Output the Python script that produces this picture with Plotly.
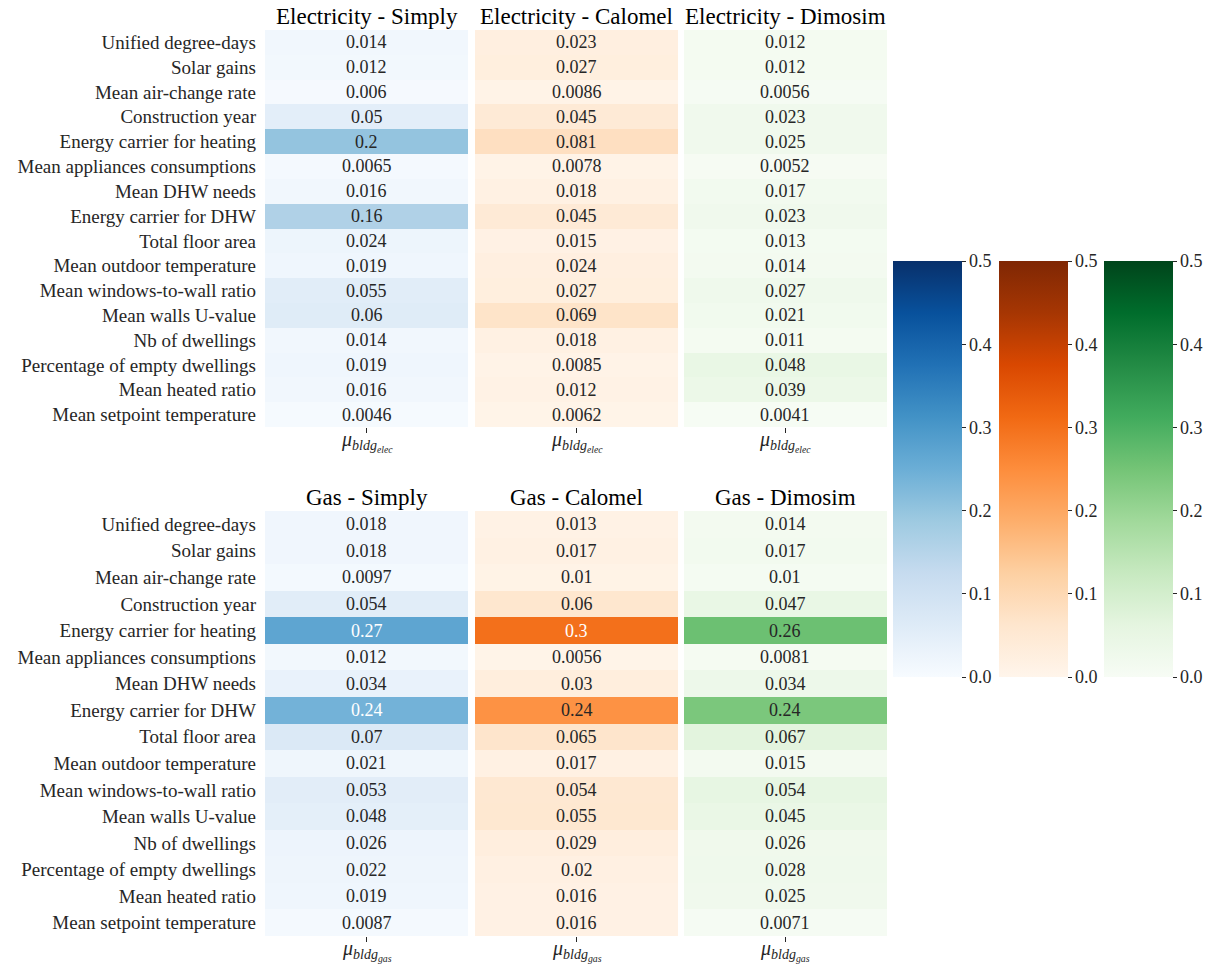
import plotly.graph_objects as go
from plotly.colors import sequential, sample_colorscale, unlabel_rgb

features = [
    "Unified degree-days", "Solar gains", "Mean air-change rate", "Construction year",
    "Energy carrier for heating", "Mean appliances consumptions", "Mean DHW needs",
    "Energy carrier for DHW", "Total floor area", "Mean outdoor temperature",
    "Mean windows-to-wall ratio", "Mean walls U-value", "Nb of dwellings",
    "Percentage of empty dwellings", "Mean heated ratio", "Mean setpoint temperature",
]

elec_simply = [0.014, 0.012, 0.006, 0.05, 0.2, 0.0065, 0.016, 0.16, 0.024, 0.019, 0.055, 0.06, 0.014, 0.019, 0.016, 0.0046]
elec_calomel = [0.023, 0.027, 0.0086, 0.045, 0.081, 0.0078, 0.018, 0.045, 0.015, 0.024, 0.027, 0.069, 0.018, 0.0085, 0.012, 0.0062]
elec_dimosim = [0.012, 0.012, 0.0056, 0.023, 0.025, 0.0052, 0.017, 0.023, 0.013, 0.014, 0.027, 0.021, 0.011, 0.048, 0.039, 0.0041]
gas_simply = [0.018, 0.018, 0.0097, 0.054, 0.27, 0.012, 0.034, 0.24, 0.07, 0.021, 0.053, 0.048, 0.026, 0.022, 0.019, 0.0087]
gas_calomel = [0.013, 0.017, 0.01, 0.06, 0.3, 0.0056, 0.03, 0.24, 0.065, 0.017, 0.054, 0.055, 0.029, 0.02, 0.016, 0.016]
gas_dimosim = [0.014, 0.017, 0.01, 0.047, 0.26, 0.0081, 0.034, 0.24, 0.067, 0.015, 0.054, 0.045, 0.026, 0.028, 0.025, 0.0071]

titles = ["Electricity - Simply", "Electricity - Calomel", "Electricity - Dimosim",
          "Gas - Simply", "Gas - Calomel", "Gas - Dimosim"]
xcat_elec = "mu_bldg_elec"
xcat_gas = "mu_bldg_gas"
xlabel_elec = "<i>μ</i><sub><i>bldg</i><sub><i>elec</i></sub></sub>"
xlabel_gas = "<i>μ</i><sub><i>bldg</i><sub><i>gas</i></sub></sub>"
cbar_ticks = [0.0, 0.1, 0.2, 0.3, 0.4, 0.5]

VMIN, VMAX = 0.0, 0.5
FONT = "Liberation Serif"
DARK = "#262626"

scales = [sequential.Blues, sequential.Oranges, sequential.Greens]

def mk_scale(cols):
    n = len(cols)
    return [[i / (n - 1), c] for i, c in enumerate(cols)]

def rel_lum(rgbstr):
    r, g, b = [v / 255 for v in unlabel_rgb(rgbstr)]
    def f(c):
        return c / 12.92 if c <= 0.03928 else ((c + 0.055) / 1.055) ** 2.4
    return 0.2126 * f(r) + 0.7152 * f(g) + 0.0722 * f(b)

panels = [
    (elec_simply, 0, 0, xcat_elec, xlabel_elec), (elec_calomel, 1, 0, xcat_elec, xlabel_elec),
    (elec_dimosim, 2, 0, xcat_elec, xlabel_elec),
    (gas_simply, 0, 1, xcat_gas, xlabel_gas), (gas_calomel, 1, 1, xcat_gas, xlabel_gas),
    (gas_dimosim, 2, 1, xcat_gas, xlabel_gas),
]

W, H = 1212, 965
def px_x(p):
    return p / W
def px_y(p):
    return 1 - p / H

xdom_px = [(265, 468), (475, 678), (684, 887)]
ydom_px = [(30, 427), (511, 936)]

fig = go.Figure()
annotations = []
layout = {}
for k, (vals, col, row, xc, xl) in enumerate(panels):
    idx = k + 1
    xa = "x" if idx == 1 else f"x{idx}"
    ya = "y" if idx == 1 else f"y{idx}"
    fig.add_trace(go.Heatmap(
        z=[[v] for v in vals], x=[xc], y=features,
        coloraxis="coloraxis" if col == 0 else f"coloraxis{col+1}",
        xaxis=xa, yaxis=ya, hoverinfo="skip",
    ))
    x0, x1 = xdom_px[col]
    y0, y1 = ydom_px[row]
    layout[f"xaxis{idx if idx > 1 else ''}"] = dict(
        domain=[px_x(x0), px_x(x1)], anchor=ya, showgrid=False, zeroline=False,
        ticks="outside", ticklen=5, tickwidth=1, tickcolor=DARK, showline=False,
        showticklabels=False, fixedrange=True,
    )
    layout[f"yaxis{idx if idx > 1 else ''}"] = dict(
        domain=[px_y(y1), px_y(y0)], anchor=xa, autorange="reversed",
        showgrid=False, zeroline=False, showline=False, ticks="",
        showticklabels=(col == 0), ticklabelstandoff=8,
        tickfont=dict(family=FONT, size=19, color=DARK), fixedrange=True,
    )
    annotations.append(dict(
        text=titles[k], xref="paper", yref="paper", x=px_x((x0 + x1) / 2),
        y=px_y(y0 + 1), xanchor="center", yanchor="bottom", showarrow=False,
        font=dict(family=FONT, size=23, color="black"),
    ))
    annotations.append(dict(
        text=xl, xref="paper", yref="paper", x=px_x((x0 + x1) / 2),
        y=px_y(y1 - 1), xanchor="center", yanchor="top", showarrow=False,
        font=dict(family=FONT, size=20, color=DARK),
    ))
    cs = scales[col]
    for feat, v in zip(features, vals):
        c = sample_colorscale(mk_scale(cs), [(v - VMIN) / (VMAX - VMIN)])[0]
        tc = DARK if rel_lum(c) > 0.408 else "white"
        annotations.append(dict(
            text=f"{v:.2g}", xref=xa, yref=ya, x=xc, y=feat, showarrow=False,
            font=dict(family=FONT, size=18, color=tc),
        ))

cb_x_px = [893, 999, 1104]
for i, cs in enumerate(scales):
    name = "coloraxis" if i == 0 else f"coloraxis{i+1}"
    layout[name] = dict(
        colorscale=mk_scale(cs), cmin=VMIN, cmax=VMAX,
        colorbar=dict(
            x=px_x(cb_x_px[i]), xanchor="left", xpad=0, ypad=0,
            y=px_y(677), yanchor="bottom", len=416 / H, lenmode="fraction",
            thickness=69, thicknessmode="pixels", outlinewidth=0,
            tickmode="array", tickvals=cbar_ticks,
            ticktext=[f"{t:.1f}" for t in cbar_ticks],
            ticks="outside", ticklen=4, tickcolor=DARK,
            tickfont=dict(family=FONT, size=18, color=DARK),
        ),
    )

fig.update_layout(
    width=W, height=H, margin=dict(l=0, r=0, t=0, b=0, autoexpand=False),
    plot_bgcolor="white", paper_bgcolor="white",
    annotations=annotations, showlegend=False, **layout,
)
fig.write_html(
    "out.html",
    config={"displayModeBar": False, "staticPlot": True},
    post_script="document.body.style.margin='0';document.body.style.overflow='hidden';",
)
